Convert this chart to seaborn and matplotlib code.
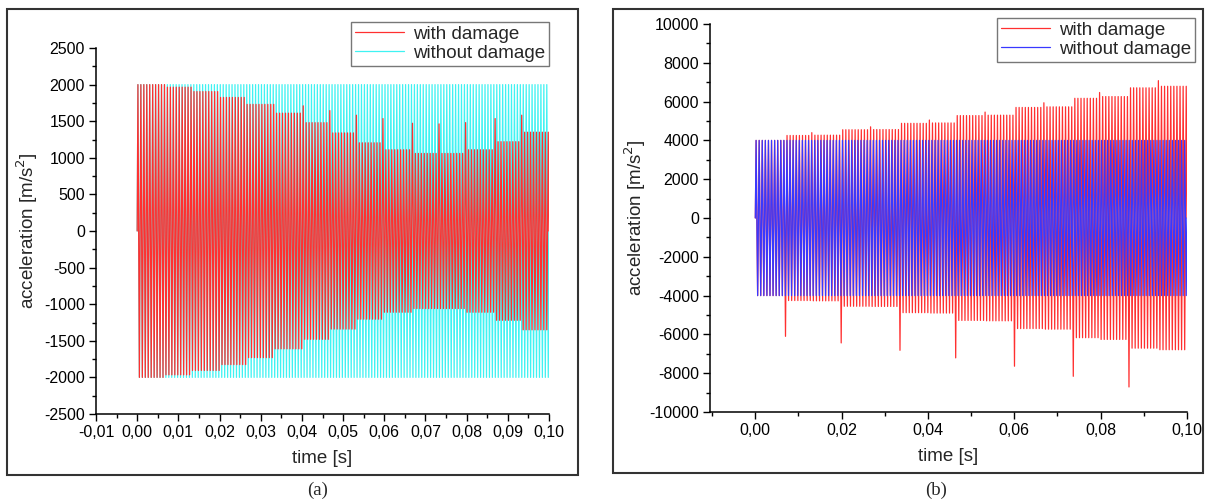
import numpy as np
import matplotlib
matplotlib.use("Agg")
from matplotlib import pyplot as plt
from matplotlib.patches import Rectangle
from matplotlib.ticker import MultipleLocator, FuncFormatter
import seaborn as sns

# step blocks of the damaged signal (s)
step_start = [0.0, 0.00667, 0.01333, 0.02, 0.02667, 0.03333, 0.04, 0.04667,
              0.05333, 0.06, 0.06667, 0.07333, 0.08, 0.08667, 0.09333]
t_end = 0.1

# (a) amplitudes [m/s2]
a_nodmg_amp = 2000
a_dmg_amp = [2000, 1965, 1905, 1825, 1730, 1610, 1480, 1340,
             1205, 1110, 1060, 1060, 1110, 1220, 1350]
a_spike_t = [0.04, 0.04667, 0.05333, 0.06, 0.06667, 0.07333, 0.08, 0.08667, 0.09333]
a_spike_v = [1710, 1645, 1582, 1536, 1472, 1463, 1481, 1536, 1582]

# (b) amplitudes [m/s2]
b_nodmg_amp = 4000
b_dmg_amp = [4000, 4255, 4270, 4550, 4560, 4880, 4900, 5280,
             5300, 5700, 5730, 6170, 6260, 6710, 6790]
b_spike_t = [0.00667, 0.02, 0.03333, 0.04667, 0.06, 0.07333, 0.08667,
             0.01333, 0.02667, 0.04, 0.05333, 0.06667, 0.08, 0.09333]
b_spike_v = [-6100, -6440, -6820, -7210, -7640, -8160, -8710,
             4400, 4700, 5050, 5460, 5940, 6470, 7080]

# oscillation frequency [Hz]
f_nodmg = 1400.0
f_dmg = 1395.0


def peaks(freq, amps, spike_t=(), spike_v=()):
    # zig-zag through the successive peaks of the oscillation
    half = 0.5 / freq
    tk = np.arange(half / 2, t_end, half)
    idx = np.searchsorted(step_start, tk, side="right") - 1
    sign = np.where(np.arange(len(tk)) % 2 == 0, 1.0, -1.0)
    yk = sign * np.asarray(amps, dtype=float)[idx]
    for ts, v in zip(spike_t, spike_v):
        cand = np.where(np.sign(yk) == np.sign(v))[0]
        k = cand[np.argmin(np.abs(tk[cand] - ts))]
        yk[k] = v
    t = np.concatenate([[0.0], tk, [t_end]])
    y = np.concatenate([[0.0], yk, [0.0]])
    return t, y


comma = FuncFormatter(lambda v, p: ("%.2f" % v).replace(".", ","))

sns.set_theme(style="ticks")
plt.rcParams['font.family'] = ['Liberation Sans', 'DejaVu Sans']
plt.rcParams['axes.unicode_minus'] = False
plt.rcParams['xtick.direction'] = 'out'
plt.rcParams['ytick.direction'] = 'out'

fig = plt.figure(figsize=(12.09, 5.04), dpi=100)

# panel frames
fig.patches.append(Rectangle((7 / 1209, 1 - 475 / 504), 571 / 1209, 466 / 504,
                             transform=fig.transFigure, fill=False, ec='#333333', lw=1.5))
fig.patches.append(Rectangle((613 / 1209, 1 - 473 / 504), 590 / 1209, 464 / 504,
                             transform=fig.transFigure, fill=False, ec='#333333', lw=1.5))

ax1 = fig.add_axes([96 / 1209, 1 - 414 / 504, 453 / 1209, 366 / 504])
ax2 = fig.add_axes([710 / 1209, 1 - 412 / 504, 477 / 1209, 388 / 504])

# (a)
t0, y0 = peaks(f_nodmg, [a_nodmg_amp] * len(step_start))
t1, y1 = peaks(f_dmg, a_dmg_amp, a_spike_t, a_spike_v)
sns.lineplot(x=t0, y=y0, ax=ax1, color='#3ff2f2', lw=0.9, estimator=None, sort=False)
sns.lineplot(x=t1, y=y1, ax=ax1, color='#ff3030', lw=0.9, estimator=None, sort=False)
ax1.set_xlim(-0.01, 0.1)
ax1.set_ylim(-2500, 2500)
ax1.xaxis.set_major_locator(MultipleLocator(0.01))
ax1.xaxis.set_minor_locator(MultipleLocator(0.005))
ax1.yaxis.set_major_locator(MultipleLocator(500))
ax1.yaxis.set_minor_locator(MultipleLocator(250))
ax1.xaxis.set_major_formatter(comma)

# (b)
t2, y2 = peaks(f_nodmg, [b_nodmg_amp] * len(step_start))
t3, y3 = peaks(f_dmg, b_dmg_amp, b_spike_t, b_spike_v)
sns.lineplot(x=t3, y=y3, ax=ax2, color='#ff3030', lw=0.9, estimator=None, sort=False)
sns.lineplot(x=t2, y=y2, ax=ax2, color='#3838ff', lw=0.9, estimator=None, sort=False)
ax2.set_xlim(-0.0105, 0.1)
ax2.set_ylim(-10000, 10000)
ax2.xaxis.set_major_locator(MultipleLocator(0.02))
ax2.xaxis.set_minor_locator(MultipleLocator(0.01))
ax2.yaxis.set_major_locator(MultipleLocator(2000))
ax2.yaxis.set_minor_locator(MultipleLocator(1000))
ax2.xaxis.set_major_formatter(comma)

for ax, pad in [(ax1, 3), (ax2, 1)]:
    sns.despine(ax=ax)
    for s in ['left', 'bottom']:
        ax.spines[s].set_linewidth(1.1)
        ax.spines[s].set_color('black')
    ax.tick_params(which='major', length=5, width=1, labelsize=11.5, colors='black', pad=3)
    ax.tick_params(which='minor', length=3, width=1, colors='black')
    ax.set_xlabel('time [s]', fontsize=13.5, labelpad=7)
    ax.set_ylabel('acceleration [m/s$^2$]', fontsize=13.5, labelpad=pad)

leg_kw = dict(loc='upper right', bbox_transform=fig.transFigure, frameon=True,
              fancybox=False, edgecolor='#555555', fontsize=13.5, handlelength=2.6,
              borderpad=0.2, labelspacing=0.1, handletextpad=0.5, borderaxespad=0)
h = ax1.get_lines()
l1 = ax1.legend([h[1], h[0]], ['with damage', 'without damage'],
                bbox_to_anchor=(549 / 1209, 1 - 22 / 504), **leg_kw)
l1.get_frame().set_linewidth(1)
h = ax2.get_lines()
l2 = ax2.legend([h[0], h[1]], ['with damage', 'without damage'],
                bbox_to_anchor=(1195 / 1209, 1 - 18 / 504), **leg_kw)
l2.get_frame().set_linewidth(1)

fig.text(318 / 1209, 1 - 490 / 504, '(a)', ha='center', va='center', fontsize=13.5,
         family='Liberation Serif')
fig.text(936 / 1209, 1 - 490 / 504, '(b)', ha='center', va='center', fontsize=13.5,
         family='Liberation Serif')

fig.savefig('out.png', dpi=100)
